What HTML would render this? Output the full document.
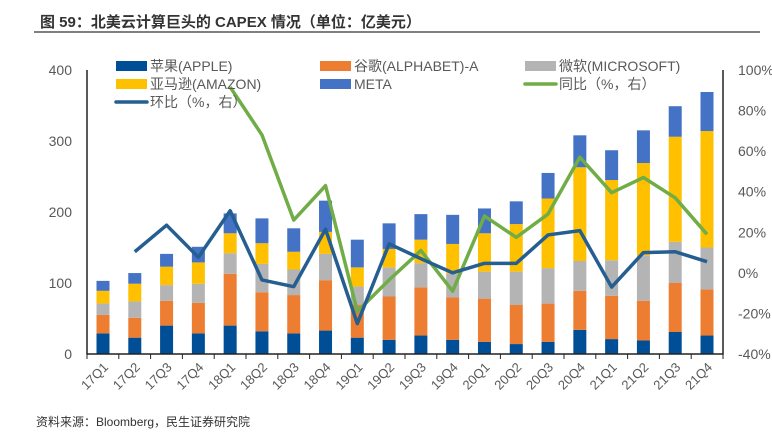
<!DOCTYPE html>
<html><head><meta charset="utf-8"><style>
body{margin:0;background:#fff;width:772px;height:437px;overflow:hidden;font-family:"Liberation Sans","Noto Sans CJK SC",sans-serif}
</style></head><body>
<svg id="c" width="772" height="437" font-family="Liberation Sans, Noto Sans CJK SC, sans-serif"></svg>
<script>
const categories=["17Q1","17Q2","17Q3","17Q4","18Q1","18Q2","18Q3","18Q4","19Q1","19Q2","19Q3","19Q4","20Q1","20Q2","20Q3","20Q4","21Q1","21Q2","21Q3","21Q4"];
const apple=[29,23,40,29,40,32,29,33,23,20,26,20,17,14,17,34,21,19,31,26];
const alphabet=[26,28,35,43,73,55,54,71,46,61,68,60,61,55,54,55,61,56,69,65];
const microsoft=[16,23,22,27,29,40,36,37,26,41,34,33,38,47,50,42,50,64,58,59];
const amazon=[18,25,26,30,28,29,25,31,27,26,33,42,54,67,98,132,113,130,148,164];
const meta=[14,15,18,22,28,35,33,44,39,36,36,41,35,32,36,45,42,46,43,55];
const qoq=[null,10.4,23.5,7.7,30.6,-3.5,-6.8,21.5,-25,14.3,7,0,4.7,4.7,18.7,20.8,-7,10,10.4,5.5];
const yoy=[null,null,null,null,91.6,68,26,43,-19,-3.5,11,-9,28,17.5,29,57,39.5,47,37,19];
const leftTicks=[0,100,200,300,400];
const rightTicks=[-40,-20,0,20,40,60,80,100];
const seriesNames=["苹果(APPLE)","谷歌(ALPHABET)-A","微软(MICROSOFT)","亚马逊(AMAZON)","META"];
const colors=["#004f96","#ed7d31","#b4b4b4","#ffc000","#4472c4"];

const NS="http://www.w3.org/2000/svg",svg=document.getElementById('c');
function el(t,a,p){const e=document.createElementNS(NS,t);for(const k in a)e.setAttribute(k,a[k]);(p||svg).appendChild(e);return e;}
const x0=87,x1=723,yBase=354,yTop=70;
const xS=i=>103+i*(707-103)/19;
const yL=v=>yBase-v*(yBase-yTop)/400;
const yR=v=>yBase-(v+40)*(yBase-yTop)/140;

let t=el('text',{x:40,y:27,'font-size':15,'font-weight':'bold',fill:'#333'});t.textContent="图 59：北美云计算巨头的 CAPEX 情况（单位：亿美元）";

let l=el('line',{x1:34,y1:32,x2:760,y2:32,stroke:'#555','stroke-width':1.5});


leftTicks.forEach(v=>{const e=el('text',{x:72,y:yL(v)+5,'font-size':14,fill:'#595959','text-anchor':'end'});e.textContent=v;
});
rightTicks.forEach(v=>{const e=el('text',{x:738,y:yR(v)+5,'font-size':14,fill:'#595959'});e.textContent=v+'%';
});

const series=[apple,alphabet,microsoft,amazon,meta];
categories.forEach((c,i)=>{let cum=0;series.forEach((s,k)=>{const y1=yL(cum),y2=yL(cum+s[i]);cum+=s[i];
const r=el('rect',{x:xS(i)-6.5,y:y2,width:13,height:y1-y2,fill:colors[k]});
});
const tx=el('text',{x:0,y:0,'font-size':13,fill:'#595959','text-anchor':'end',transform:`translate(${xS(i)+6},${yBase+14}) rotate(-45)`});tx.textContent=c;
});

let ax=el('path',{d:`M${x0},${yTop} V${yBase} H${x1} V${yTop}`,fill:'none',stroke:'#222','stroke-width':1.5});

for(let i=0;i<=20;i++){const tx=x0+i*(x1-x0)/20;const tk=el('line',{x1:tx,y1:yBase,x2:tx,y2:yBase+5,stroke:'#222'});
}

function line(arr,col,name){let d='';arr.forEach((v,i)=>{if(v==null)return;d+=(d?'L':'M')+xS(i)+','+yR(v);});
const p=el('path',{d,fill:'none',stroke:col,'stroke-width':3.5,'stroke-linejoin':'round'});
}
line(yoy,'#70ad47','yoy-line');
line(qoq,'#255e91','qoq-line');

const leg=[[116,66,colors[0],seriesNames[0]],[320,66,colors[1],seriesNames[1]],[525,66,colors[2],seriesNames[2]],
[116,84,colors[3],seriesNames[3]],[320,84,colors[4],seriesNames[4]],[525,84,'#70ad47','同比（%，右）'],[116,102,'#255e91','环比（%，右）']];
leg.forEach((g,i)=>{const line=i>=5;
const s=line?el('line',{x1:g[0],y1:g[1],x2:g[0]+31,y2:g[1],stroke:g[2],'stroke-width':3.5,'stroke-linecap':'round'}):el('rect',{x:g[0],y:g[1]-5,width:31,height:10,fill:g[2]});

const tx=el('text',{x:g[0]+34,y:g[1]+5,'font-size':14,fill:'#595959'});tx.textContent=g[3];
});

let src=el('text',{x:36,y:426,'font-size':12,fill:'#333'});src.textContent="资料来源：Bloomberg，民生证券研究院";

</script>
</body></html>
